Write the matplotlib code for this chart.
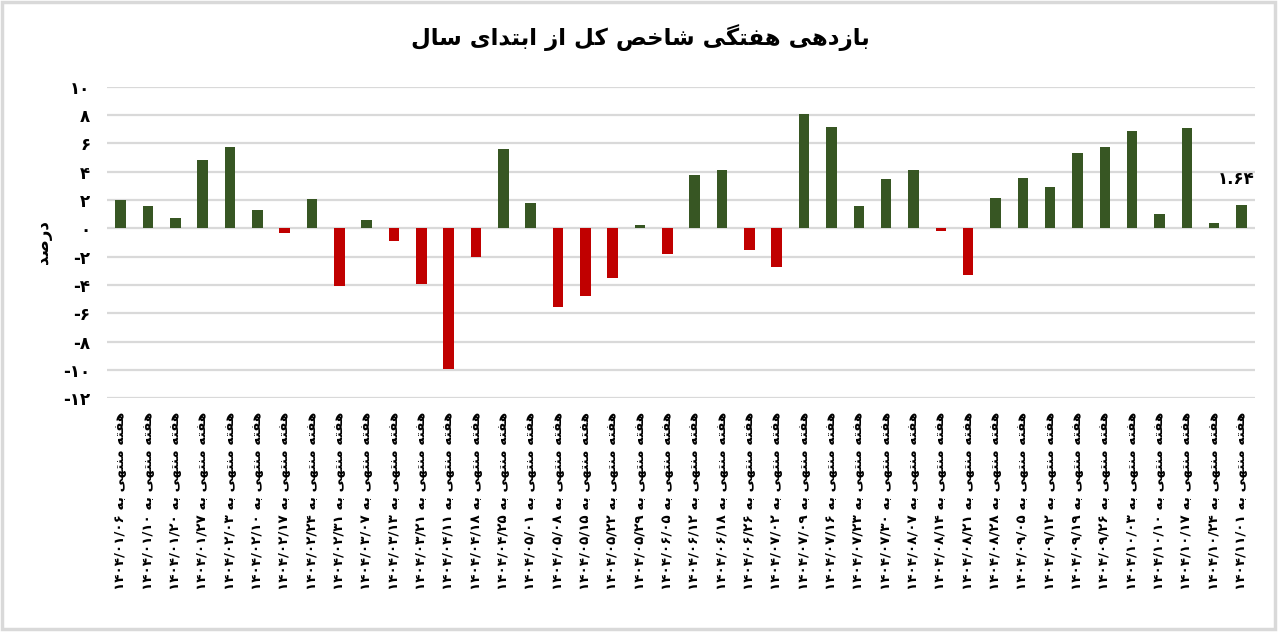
import matplotlib
matplotlib.use("Agg")
import matplotlib.pyplot as plt
from matplotlib.patches import Rectangle

# ---------------- data ----------------
dates = ["1404/01/06", "1404/01/10", "1404/01/20", "1404/01/27", "1404/02/03", "1404/02/10",
         "1404/02/17", "1404/02/24", "1404/02/31", "1404/03/07", "1404/03/13", "1404/03/21",
         "1404/04/11", "1404/04/18", "1404/04/25", "1404/05/01", "1404/05/08", "1404/05/15",
         "1404/05/22", "1404/05/29", "1404/06/05", "1404/06/12", "1404/06/18", "1404/06/26",
         "1404/07/02", "1404/07/09", "1404/07/16", "1404/07/23", "1404/07/30", "1404/08/07",
         "1404/08/14", "1404/08/21", "1404/08/28", "1404/09/05", "1404/09/12", "1404/09/19",
         "1404/09/26", "1404/10/03", "1404/10/10", "1404/10/17", "1404/10/24", "1404/11/01"]
returns = [2.0, 1.6, 0.7, 4.85, 5.75, 1.3, -0.35, 2.05, -4.05, 0.6, -0.9, -3.9,
           -9.95, -2.0, 5.6, 1.8, -5.55, -4.8, -3.5, 0.25, -1.8, 3.75,
           4.15, -1.5, -2.7, 8.05, 7.15, 1.6, 3.45, 4.15, -0.2, -3.3,
           2.15, 3.55, 2.9, 5.35, 5.75, 6.9, 1.0, 7.1, 0.35, 1.64]
yticks = [10, 8, 6, 4, 2, 0, -2, -4, -6, -8, -10, -12]
title_text = "بازدهی هفتگی شاخص کل از ابتدای سال"
ylabel_text = "درصد"
label_prefix = "هفته منتهی به"
last_label = "1.64"

# ---------------- simple Persian shaping ----------------
FORMS = {
    '\u0627': (0xFE8D, 0xFE8E, None, None),
    '\u0628': (0xFE8F, 0xFE90, 0xFE91, 0xFE92),
    '\u062A': (0xFE95, 0xFE96, 0xFE97, 0xFE98),
    '\u062E': (0xFEA5, 0xFEA6, 0xFEA7, 0xFEA8),
    '\u062F': (0xFEA9, 0xFEAA, None, None),
    '\u0631': (0xFEAD, 0xFEAE, None, None),
    '\u0632': (0xFEAF, 0xFEB0, None, None),
    '\u0633': (0xFEB1, 0xFEB2, 0xFEB3, 0xFEB4),
    '\u0634': (0xFEB5, 0xFEB6, 0xFEB7, 0xFEB8),
    '\u0635': (0xFEB9, 0xFEBA, 0xFEBB, 0xFEBC),
    '\u0641': (0xFED1, 0xFED2, 0xFED3, 0xFED4),
    '\u0644': (0xFEDD, 0xFEDE, 0xFEDF, 0xFEE0),
    '\u0645': (0xFEE1, 0xFEE2, 0xFEE3, 0xFEE4),
    '\u0646': (0xFEE5, 0xFEE6, 0xFEE7, 0xFEE8),
    '\u0647': (0xFEE9, 0xFEEA, 0xFEEB, 0xFEEC),
    '\u06A9': (0xFB8E, 0xFB8F, 0xFB90, 0xFB91),
    '\u06AF': (0xFB92, 0xFB93, 0xFB94, 0xFB95),
    '\u06CC': (0xFBFC, 0xFBFD, 0xFBFE, 0xFBFF),
}


def shape(text):
    out = []
    n = len(text)
    for i, ch in enumerate(text):
        if ch not in FORMS:
            out.append(ch)
            continue
        iso, fin, ini, med = FORMS[ch]
        prev = text[i - 1] if i > 0 else None
        nxt = text[i + 1] if i + 1 < n else None
        jp = prev in FORMS and FORMS[prev][2] is not None
        jn = ini is not None and nxt in FORMS
        if jp and jn:
            out.append(chr(med))
        elif jp:
            out.append(chr(fin))
        elif jn:
            out.append(chr(ini))
        else:
            out.append(chr(iso))
    return "".join(out)


def rtl(text):
    return shape(text)[::-1]


FA_DIGITS = str.maketrans("0123456789", "۰۱۲۳۴۵۶۷۸۹")


def fa(s):
    return str(s).translate(FA_DIGITS)


# ---------------- figure ----------------
plt.rcParams['font.family'] = ['DejaVu Sans']
fig = plt.figure(figsize=(12.8, 6.32), dpi=100)
fig.patch.set_facecolor("white")
ax = fig.add_axes([0.0836, 0.3698, 0.8969, 0.4930])

GREEN = "#375623"
RED = "#C00000"
colors = [GREEN if v >= 0 else RED for v in returns]
x = list(range(len(returns)))
ax.bar(x, returns, width=0.38, color=colors, zorder=3)

ax.set_xlim(-0.5, len(returns) - 0.5)
ax.set_ylim(-12, 10)
ax.set_yticks(yticks)
ax.set_yticklabels([fa(t) if t >= 0 else "-" + fa(-t) for t in yticks],
                   fontsize=12, fontweight="bold")
ax.yaxis.grid(True, color="#D9D9D9", linewidth=1.6, zorder=0)
ax.set_axisbelow(True)
for s in ax.spines.values():
    s.set_visible(False)
ax.tick_params(axis="both", length=0)
ax.tick_params(axis="y", pad=12)

xlabels = [fa(d) + " " + rtl(label_prefix) for d in dates]
ax.set_xticks(x)
ax.set_xticklabels(xlabels, rotation=90, fontsize=9.7, fontweight="bold",
                   va="top", ha="center")
ax.tick_params(axis="x", pad=10)

ax.set_ylabel(rtl(ylabel_text), fontsize=12, fontweight="bold", labelpad=8)

# data label on last bar
ax.annotate(fa(last_label), xy=(x[-1], returns[-1]),
            xytext=(-4, 12), textcoords="offset points", ha="center", va="bottom",
            fontsize=12, fontweight="bold")

fig.text(0.5, 1 - 38 / 632, rtl(title_text), ha="center", va="center",
         fontsize=16.5, fontweight="bold")

# chart border
fig.patches.append(Rectangle((0.0015, 0.004), 0.9945, 0.993, transform=fig.transFigure,
                             fill=False, edgecolor="#D9D9D9", linewidth=2.5))

fig.savefig("out.png", dpi=100, facecolor="white")
